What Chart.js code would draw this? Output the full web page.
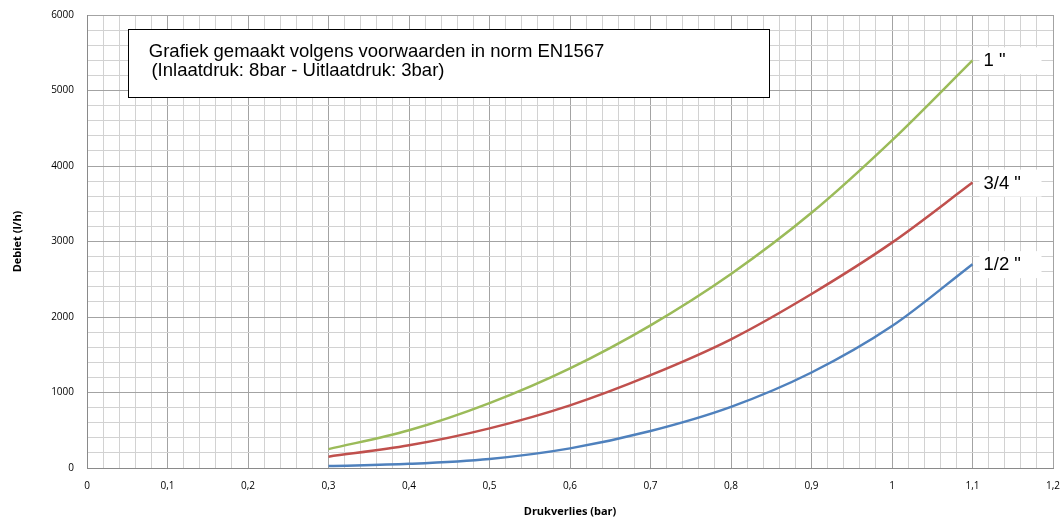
<!DOCTYPE html>
<html><head><meta charset="utf-8">
<script src="https://cdn.jsdelivr.net/npm/chart.js@4"></script>
<style>html,body{margin:0;padding:0;background:#fff}</style>
</head><body>
<canvas id="c" width="1064" height="522"></canvas>
<script>
const pressureDrop = [0.3, 0.4, 0.5, 0.6, 0.7, 0.8, 0.9, 1.0, 1.1];
const flowOne = [250, 500, 860, 1320, 1890, 2570, 3380, 4340, 5400];
const flowThreeQuarter = [150, 300, 525, 830, 1230, 1705, 2305, 2985, 3780];
const flowHalf = [25, 55, 120, 260, 490, 810, 1265, 1880, 2700];
const seriesNames = ['1 "', '3/4 "', '1/2 "'];
const xTickLabels = ['0','0,1','0,2','0,3','0,4','0,5','0,6','0,7','0,8','0,9','1','1,1','1,2'];
const yTickLabels = ['0','1000','2000','3000','4000','5000','6000'];
const noteLines = ['Grafiek gemaakt volgens voorwaarden in norm EN1567', ' (Inlaatdruk: 8bar - Uitlaatdruk: 3bar)'];
const xTitle = 'Drukverlies (bar)';
const yTitle = 'Debiet (l/h)';

const toPoints = (ys) => pressureDrop.map((x, i) => ({x, y: ys[i]}));
const isMult = (v, step) => Math.abs(v / step - Math.round(v / step)) < 1e-6;
const MAJOR = '#a3a3a3', MINOR = '#d2d2d2';

const overlay = {
  id: 'overlay',
  afterDatasetsDraw(chart) {
    const ctx = chart.ctx, xs = chart.scales.x, ys = chart.scales.y;
    ctx.save();
    // note box
    const bx = xs.getPixelForValue(0.0513), by = ys.getPixelForValue(5815);
    const bx2 = xs.getPixelForValue(0.8476), by2 = ys.getPixelForValue(4914);
    ctx.fillStyle = '#fff';
    ctx.fillRect(bx, by, bx2 - bx, by2 - by);
    ctx.strokeStyle = '#000'; ctx.lineWidth = 1;
    ctx.strokeRect(Math.round(bx) + 0.5, Math.round(by) + 0.5, Math.round(bx2 - bx), Math.round(by2 - by));
    ctx.fillStyle = '#000';
    ctx.font = '18.5px "Liberation Sans", Arial, sans-serif';
    ctx.textBaseline = 'alphabetic';
    ctx.textAlign = 'left';
    ctx.fillText(noteLines[0], bx + 20.5, by + 28.5);
    ctx.fillText(noteLines[1], bx + 18, by + 47);
    // series end labels
    chart.data.datasets.forEach((ds, i) => {
      const meta = chart.getDatasetMeta(i);
      const last = meta.data[meta.data.length - 1];
      const px = last.x, py = last.y;
      ctx.fillStyle = '#fff';
      ctx.fillRect(px + 7, py - 13, 62, 27);
      ctx.fillStyle = '#000';
      ctx.textBaseline = 'middle';
      ctx.fillText(seriesNames[i], px + 11, py + 1);
    });
    ctx.restore();
  }
};

new Chart(document.getElementById('c'), {
  type: 'line',
  data: {
    datasets: [
      {label: seriesNames[0], data: toPoints(flowOne), borderColor: '#9BBB59'},
      {label: seriesNames[1], data: toPoints(flowThreeQuarter), borderColor: '#C0504D'},
      {label: seriesNames[2], data: toPoints(flowHalf), borderColor: '#4F81BD'}
    ].map(d => Object.assign(d, {borderWidth: 2.5, pointRadius: 0, fill: false, cubicInterpolationMode: 'monotone'}))
  },
  options: {
    responsive: false,
    animation: false,
    layout: {padding: {top: 15, right: 11, left: 0, bottom: 0}},
    plugins: {legend: {display: false}, tooltip: {enabled: false}},
    scales: {
      x: {
        type: 'linear', min: 0, max: 1.2,
        afterFit: (s) => { s.height = 54; s.paddingRight = 0; s.paddingLeft = 0; },
        ticks: {
          stepSize: 0.02, autoSkip: false, maxRotation: 0, maxTicksLimit: 200, padding: 12,
          color: '#000', font: {family: '"Open Sans", sans-serif', size: 10},
          callback: (v) => isMult(v, 0.1) ? xTickLabels[Math.round(v * 10)] : ''
        },
        grid: {drawTicks: false, color: (c) => isMult(c.tick.value, 0.1) ? MAJOR : MINOR, lineWidth: 1},
        border: {display: true, color: '#8a8a8a'},
        title: {display: true, text: xTitle, color: '#000', font: {family: '"Open Sans", sans-serif', size: 11, weight: 'bold'}, padding: {top: 0, bottom: 4}}
      },
      y: {
        type: 'linear', min: 0, max: 6000,
        afterFit: (s) => { s.width = 87; s.paddingTop = 0; s.paddingBottom = 0; },
        ticks: {
          stepSize: 200, autoSkip: false, maxTicksLimit: 200, padding: 13,
          color: '#000', font: {family: '"Open Sans", sans-serif', size: 10},
          callback: (v) => isMult(v, 1000) ? yTickLabels[Math.round(v / 1000)] : ''
        },
        grid: {drawTicks: false, color: (c) => isMult(c.tick.value, 1000) ? MAJOR : MINOR, lineWidth: 1},
        border: {display: true, color: '#8a8a8a'},
        title: {display: true, text: yTitle, color: '#000', font: {family: '"Open Sans", sans-serif', size: 11, weight: 'bold'}, padding: {top: 11, bottom: 0}}
      }
    }
  },
  plugins: [overlay]
});
</script>
</body></html>
